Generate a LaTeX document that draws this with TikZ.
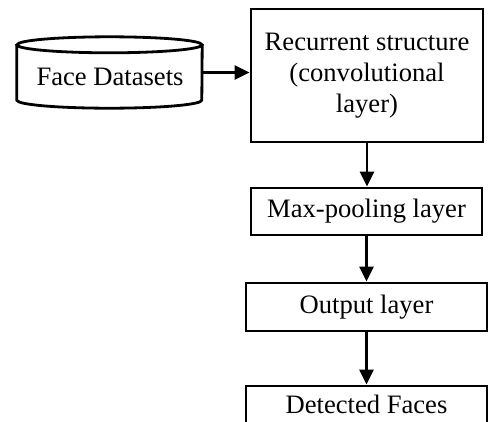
\documentclass[tikz,border=0pt]{standalone}
\usepackage{fontspec}
\setmainfont{Liberation Serif}
\usetikzlibrary{arrows.meta}
\begin{document}
\begin{tikzpicture}[x=1pt,y=-1pt,
  txt/.style={font=\fontsize{26.6}{31}\selectfont,align=center},
  box/.style={txt,draw,line width=2.8pt,inner sep=0pt},
  cyl/.style={line width=2.8pt},
  flow/.style={line width=2.8pt,-{Triangle[length=15pt,width=14pt]}}]
\useasboundingbox (0,0) rectangle (488,421);
\clip (0,0) rectangle (488,421);

% database cylinder
\node[minimum width=185pt,minimum height=71pt,inner sep=0pt] (db) at (109.5,72.5) {};
\node[txt] (dblabel) at (110,77) {Face Datasets};
\draw[cyl] ([yshift=-8pt]db.north west) -- ([yshift=8pt]db.south west)
  arc[start angle=180,end angle=360,x radius=92.5pt,y radius=8pt]
  -- ([yshift=-8pt]db.north east);
\draw[cyl] ([yshift=-8pt]db.north) ellipse [x radius=92.5pt,y radius=8pt];

% processing stages
\node[box,minimum width=232pt,minimum height=133pt] (rec) at (367,75.5)
  {Recurrent structure\\(convolutional\\layer)};
\node[box,minimum width=231pt,minimum height=47pt] (pool) at (366.5,211.5) {Max-pooling layer};
\node[box,minimum width=241pt,minimum height=48pt] (out) at (366.5,307) {Output layer};
\node[box,minimum width=241pt,minimum height=50pt,text height=18pt,text depth=14pt]
  (det) at (366.5,411) {Detected Faces};

% connectors
\draw[flow] (db.east) -- (db.east -| rec.west);
\draw[flow] (rec.south) -- (rec.south |- pool.north);
\draw[flow] (pool.south) -- (pool.south |- out.north);
\draw[flow] (out.south) -- (out.south |- det.north);
\end{tikzpicture}
\end{document}
